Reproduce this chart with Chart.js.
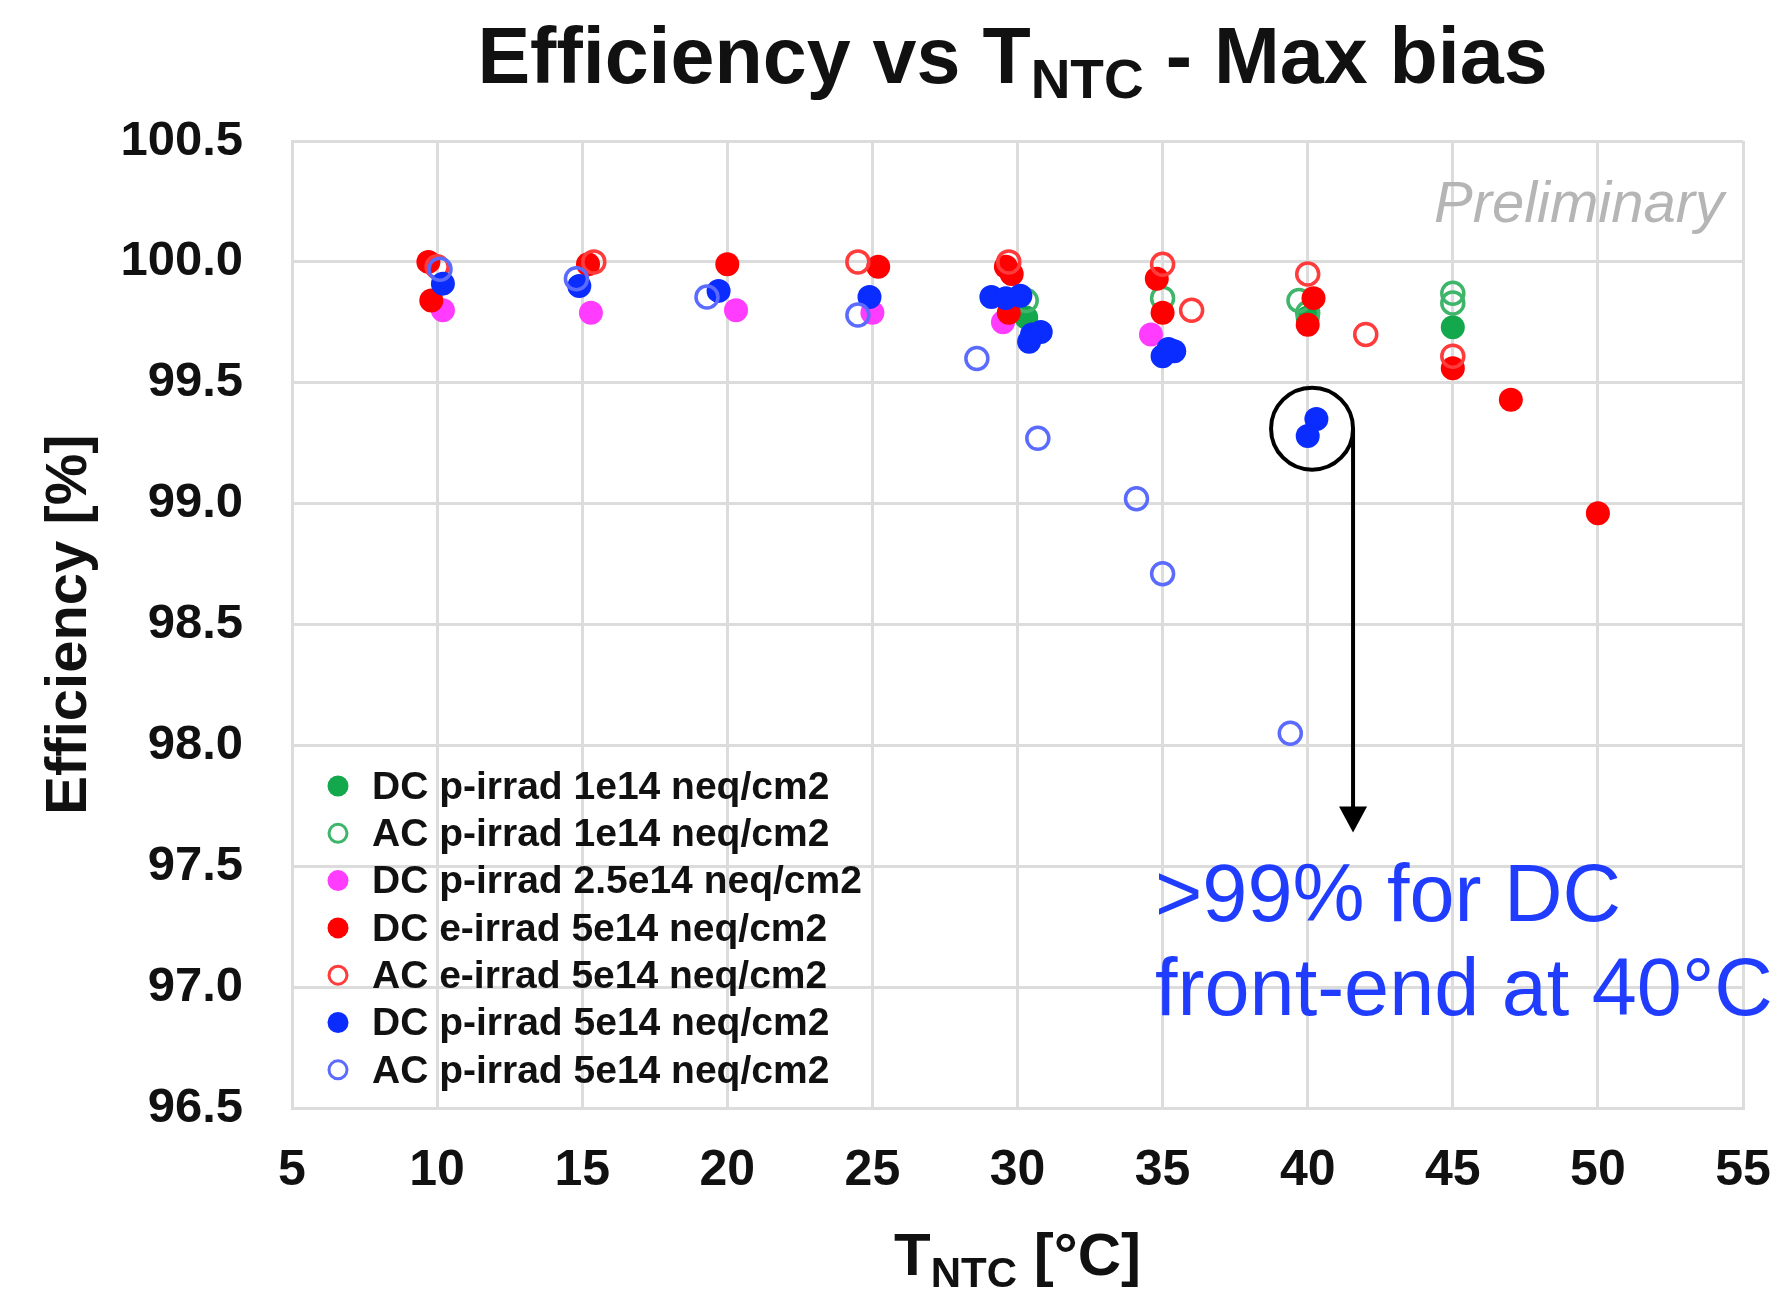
<!DOCTYPE html>
<html>
<head>
<meta charset="utf-8">
<title>Efficiency vs TNTC - Max bias</title>
<script src="https://cdn.jsdelivr.net/npm/chart.js@4.4.1/dist/chart.umd.min.js"></script>
<style>
  html, body { margin: 0; padding: 0; background: #fff; }
  #wrap { width: 1788px; height: 1297px; }
</style>
</head>
<body>
<div id="wrap"><canvas id="effChart" width="1788" height="1297"></canvas></div>
<script>
// ─── Data (T_NTC [°C], efficiency [%]) ───────────────
const dcP1e14 = [[30.3, 99.77], [40.0, 99.77], [45.0, 99.73]];
const acP1e14 = [[30.3, 99.84], [35.0, 99.85], [39.7, 99.84], [40.0, 99.79], [45.0, 99.87], [45.0, 99.83]];
const dcP25e14 = [[10.2, 99.80], [15.3, 99.79], [20.3, 99.80], [25.0, 99.79], [29.5, 99.75], [34.6, 99.70]];
const dcE5e14 = [
  [9.7, 100.0], [9.8, 99.84], [15.2, 99.99], [20.0, 99.99], [25.2, 99.98],
  [29.6, 99.98], [29.8, 99.95], [29.7, 99.79], [34.8, 99.93], [35.0, 99.79],
  [40.2, 99.85], [40.0, 99.74], [45.0, 99.56], [47.0, 99.43], [50.0, 98.96]
];
const acE5e14 = [
  [10.0, 99.98], [15.4, 100.0], [24.5, 100.0], [29.7, 100.0], [35.0, 99.99],
  [36.0, 99.80], [40.0, 99.95], [42.0, 99.70], [45.0, 99.61]
];
const dcP5e14 = [
  [10.2, 99.91], [14.9, 99.90], [19.7, 99.88], [24.9, 99.855], [29.1, 99.855],
  [29.6, 99.85], [30.1, 99.86], [30.5, 99.70], [30.8, 99.71], [30.4, 99.67],
  [35.2, 99.64], [35.4, 99.63], [35.0, 99.61], [40.3, 99.35], [40.0, 99.28]
];
const acP5e14 = [
  [10.1, 99.97], [14.8, 99.93], [19.3, 99.855], [24.5, 99.78], [28.6, 99.60],
  [30.7, 99.27], [34.1, 99.02], [35.0, 98.71], [39.4, 98.05]
];

const seriesLabels = [
  "DC p-irrad 1e14 neq/cm2",
  "AC p-irrad 1e14 neq/cm2",
  "DC p-irrad 2.5e14 neq/cm2",
  "DC e-irrad 5e14 neq/cm2",
  "AC e-irrad 5e14 neq/cm2",
  "DC p-irrad 5e14 neq/cm2",
  "AC p-irrad 5e14 neq/cm2"
];
const seriesData = [dcP1e14, acP1e14, dcP25e14, dcE5e14, acE5e14, dcP5e14, acP5e14];
const seriesColors = ["#14a84c", "#3fb56b", "#ff3cff", "#ff0000", "#ff3b3b", "#0a2cff", "#5b6bff"];
const seriesFilled = [true, false, true, true, false, true, false];

const xTicks = { min: 5, max: 55, step: 5 };
const yTicks = { min: 96.5, max: 100.5, step: 0.5 };

// annotation: highlighted DC points at 40 °C
const highlight = { x: 40.15, y: 99.31, r: 41 };
const noteLines = [">99% for DC", "front-end at 40°C"];

// ─── Styling ─────────────────────────────────────────
const FONT = "'Liberation Sans', Arial, Helvetica, sans-serif";
const GRID = "#dcdcdc";
const INK = "#111";

// text made of pieces with different sizes / baseline offsets
function drawRich(ctx, parts, x, baseline, align) {
  let total = 0;
  parts.forEach(p => {
    ctx.font = p.font;
    p.w = ctx.measureText(p.text).width;
    total += p.w;
  });
  let cx = align === "center" ? x - total / 2 : x;
  ctx.textAlign = "left";
  ctx.textBaseline = "alphabetic";
  parts.forEach(p => {
    ctx.font = p.font;
    ctx.fillText(p.text, cx, baseline + (p.dy || 0));
    cx += p.w;
  });
}

const decorPlugin = {
  id: "decor",
  afterDraw(chart) {
    const { ctx, chartArea: area, scales } = chart;
    const xs = scales.x, ys = scales.y;
    const midX = (area.left + area.right) / 2;
    ctx.save();
    ctx.fillStyle = INK;

    // title
    drawRich(ctx, [
      { text: "Efficiency vs T", font: `bold 79px ${FONT}` },
      { text: "NTC", font: `bold 55px ${FONT}`, dy: 15 },
      { text: " - Max bias", font: `bold 79px ${FONT}` }
    ], midX - 5, 83, "center");

    // x axis title
    drawRich(ctx, [
      { text: "T", font: `bold 60px ${FONT}` },
      { text: "NTC", font: `bold 42px ${FONT}`, dy: 12 },
      { text: " [°C]", font: `bold 60px ${FONT}` }
    ], midX, 1275, "center");

    // y axis title
    ctx.save();
    ctx.translate(86, (area.top + area.bottom) / 2);
    ctx.rotate(-Math.PI / 2);
    ctx.font = `bold 58px ${FONT}`;
    ctx.textAlign = "center";
    ctx.textBaseline = "alphabetic";
    ctx.fillText("Efficiency [%]", 0, 0);
    ctx.restore();

    // Preliminary
    ctx.font = `italic 58px ${FONT}`;
    ctx.fillStyle = "#b5b5b5";
    ctx.textAlign = "right";
    ctx.fillText("Preliminary", area.right - 19, area.top + 81);

    // legend
    ctx.textAlign = "left";
    ctx.textBaseline = "middle";
    ctx.font = `bold 39px ${FONT}`;
    seriesLabels.forEach((label, i) => {
      const ly = 786 + i * 47.3;
      const lx = area.left + 46;
      ctx.beginPath();
      if (seriesFilled[i]) {
        ctx.arc(lx, ly, 10.5, 0, Math.PI * 2);
        ctx.fillStyle = seriesColors[i];
        ctx.fill();
      } else {
        ctx.arc(lx, ly, 9, 0, Math.PI * 2);
        ctx.lineWidth = 3;
        ctx.strokeStyle = seriesColors[i];
        ctx.stroke();
      }
      ctx.fillStyle = INK;
      ctx.fillText(label, lx + 34, ly + 2);
    });

    // circle + arrow
    const cx = xs.getPixelForValue(highlight.x);
    const cy = ys.getPixelForValue(highlight.y);
    ctx.strokeStyle = "#000";
    ctx.lineWidth = 4;
    ctx.beginPath();
    ctx.arc(cx, cy, highlight.r, 0, Math.PI * 2);
    ctx.stroke();
    const ax = cx + highlight.r;
    const tipY = ys.getPixelForValue(97.64);
    ctx.beginPath();
    ctx.moveTo(ax, cy);
    ctx.lineTo(ax, tipY - 20);
    ctx.stroke();
    ctx.beginPath();
    ctx.moveTo(ax - 14, tipY - 26);
    ctx.lineTo(ax + 14, tipY - 26);
    ctx.lineTo(ax, tipY);
    ctx.closePath();
    ctx.fillStyle = "#000";
    ctx.fill();

    // note
    ctx.fillStyle = "#1f3cff";
    ctx.font = `81px ${FONT}`;
    ctx.textAlign = "left";
    ctx.textBaseline = "alphabetic";
    const nx = xs.getPixelForValue(34.74);
    ctx.fillText(noteLines[0], nx, ys.getPixelForValue(97.274));
    ctx.fillText(noteLines[1], nx, ys.getPixelForValue(96.885));

    ctx.restore();
  }
};

// ─── Chart ───────────────────────────────────────────
const datasets = seriesLabels.map((label, i) => ({
  label,
  data: seriesData[i].map(([x, y]) => ({ x, y })),
  order: seriesLabels.length - i,
  pointStyle: "circle",
  pointRadius: seriesFilled[i] ? 12 : 11,
  pointHoverRadius: seriesFilled[i] ? 12 : 11,
  backgroundColor: seriesFilled[i] ? seriesColors[i] : "rgba(255,255,255,0)",
  borderColor: seriesColors[i],
  borderWidth: seriesFilled[i] ? 0 : 3.5,
  showLine: false
}));

new Chart(document.getElementById("effChart").getContext("2d"), {
  type: "scatter",
  data: { datasets },
  options: {
    responsive: false,
    animation: false,
    layout: { padding: { top: 141, right: 45, bottom: 0, left: 0 } },
    plugins: { legend: { display: false }, title: { display: false }, tooltip: { enabled: false } },
    scales: {
      x: {
        type: "linear",
        min: xTicks.min,
        max: xTicks.max,
        ticks: { stepSize: xTicks.step, padding: 33, color: INK, font: { family: FONT, size: 50, weight: "bold" } },
        grid: { color: GRID, lineWidth: 3, drawTicks: false },
        border: { color: GRID, width: 3 },
        afterFit: s => {
          s.height = 189;
          s.paddingLeft = 0;
          s.paddingRight = 0;
        }
      },
      y: {
        type: "linear",
        min: yTicks.min,
        max: yTicks.max,
        ticks: {
          stepSize: yTicks.step, padding: 49, color: INK,
          font: { family: FONT, size: 49, weight: "bold" },
          callback: v => v.toFixed(1)
        },
        grid: { color: GRID, lineWidth: 3, drawTicks: false },
        border: { color: GRID, width: 3 },
        afterFit: s => {
          s.width = 292;
          s.paddingTop = 0;
          s.paddingBottom = 0;
        }
      }
    }
  },
  plugins: [decorPlugin]
});
</script>
</body>
</html>
